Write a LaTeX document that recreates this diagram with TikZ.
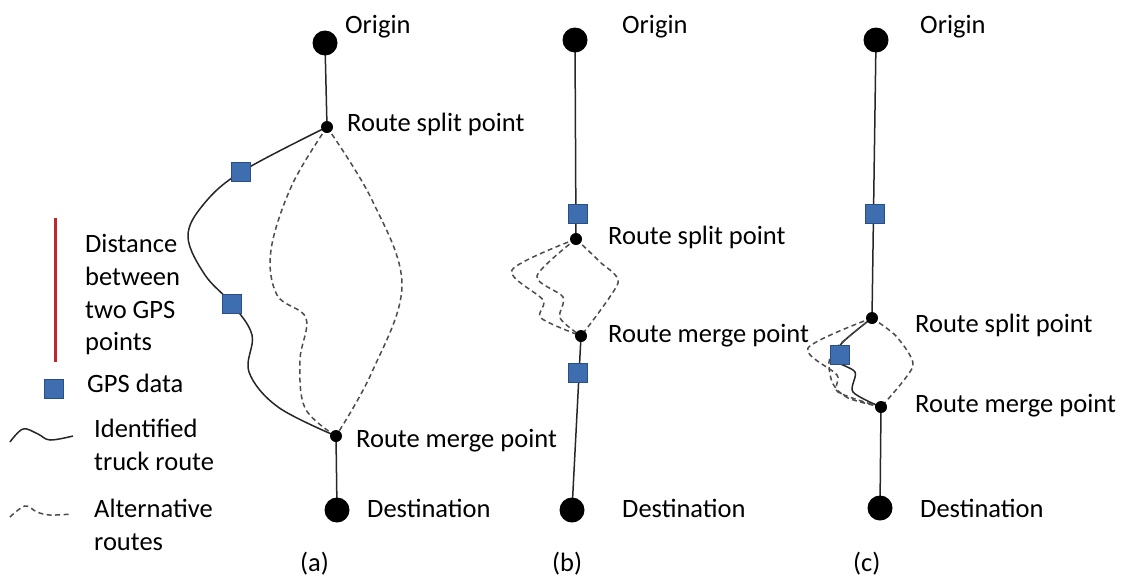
\documentclass[tikz,border=0pt]{standalone}
\usepackage{fontspec}
\setmainfont{Carlito}
\begin{document}
\begin{tikzpicture}[x=1pt,y=-1pt,
  bigdot/.style={circle,fill=black,inner sep=0pt,minimum size=25pt},
  smalldot/.style={circle,fill=black,inner sep=0pt,minimum size=12pt},
  gps/.style={rectangle,fill=gpsblue,draw=gpsedge,line width=1.2pt,inner sep=0pt,minimum size=19pt},
  lbl/.style={anchor=base west,inner sep=0pt,font=\fontsize{26.5}{30}\selectfont},
  road/.style={line width=1.5pt,draw=black!85},
  alt/.style={line width=1.5pt,draw=black!70,dash pattern=on 5pt off 3.5pt},
]
\definecolor{gpsblue}{HTML}{3F6EB0}
\definecolor{gpsedge}{HTML}{2A4F86}
\definecolor{distred}{HTML}{C0262D}
\useasboundingbox (0,0) rectangle (1125,579);

% ---------- coordinates ----------
\coordinate (oa) at (325,43);  \coordinate (sa) at (327,127);
\coordinate (ma) at (336,436); \coordinate (da) at (337,510);
\coordinate (ob) at (575,40);  \coordinate (sb) at (576,239);
\coordinate (mb) at (581,336); \coordinate (db) at (572,510);
\coordinate (oc) at (876,40);  \coordinate (sc) at (872,318);
\coordinate (mc) at (881,407); \coordinate (dc) at (880,508);

% ---------- panel (a) ----------
\draw[road] (oa) -- (sa);
\draw[road] (ma) -- (da);
\draw[road] plot[smooth,tension=0.6] coordinates {(sa) (241,172) (203,205) (188,237) (205,275) (232,304) (252,335) (249,372) (278,407) (ma)};
\draw[alt] plot[smooth,tension=0.6] coordinates {(sa) (292,185) (271,250) (277,295) (306,318) (300,360) (305,408) (ma)};
\draw[alt] plot[smooth,tension=0.6] coordinates {(sa) (372,200) (402,285) (372,372) (ma)};
\node[gps] (ga1) at (241,172) {};
\node[gps] (ga2) at (232,304) {};

% ---------- panel (b) ----------
\draw[road] (ob) -- (sb);
\draw[road] (mb) -- (db);
\draw[alt] plot[smooth,tension=0.5] coordinates {(sb) (512,270) (543,300) (541,318) (mb)};
\draw[alt] plot[smooth,tension=0.5] coordinates {(sb) (537,276) (563,297) (560,318) (mb)};
\draw[alt] plot[smooth,tension=0.4] coordinates {(sb) (600,262) (618,283) (mb)};
\node[gps] (gb1) at (578,214) {};
\node[gps] (gb2) at (578,373) {};

% ---------- panel (c) ----------
\draw[road] (oc) -- (sc);
\draw[road] (mc) -- (dc);
\draw[road] plot[smooth,tension=0.5] coordinates {(sc) (842,343) (835,360) (855,372) (853,392) (mc)};
\draw[alt] plot[smooth,tension=0.5] coordinates {(sc) (808,348) (837,375) (838,392) (mc)};
\draw[alt] plot[smooth,tension=0.5] coordinates {(sc) (838,346) (829,362) (833,384) (848,398) (mc)};
\draw[alt] plot[smooth,tension=0.4] coordinates {(sc) (896,336) (913,366) (mc)};
\node[gps] (gc1) at (875,214) {};
\node[gps] (gc2) at (840,355) {};

% ---------- dots ----------
\foreach \p in {oa,da,ob,db,oc,dc} \node[bigdot] at (\p) {};
\foreach \p in {sa,ma,sb,mb,sc,mc} \node[smalldot] at (\p) {};

% ---------- labels ----------
\node[lbl] (ta1) at (345,33) {Origin};
\node[lbl] (ta2) at (347,131) {Route split point};
\node[lbl] (ta3) at (356,447) {Route merge point};
\node[lbl] (ta4) at (367,517) {Destination};
\node[lbl] (tb1) at (622,33) {Origin};
\node[lbl] (tb2) at (608,244) {Route split point};
\node[lbl] (tb3) at (608,342) {Route merge point};
\node[lbl] (tb4) at (622,517) {Destination};
\node[lbl] (tc1) at (920,33) {Origin};
\node[lbl] (tc2) at (915,332) {Route split point};
\node[lbl] (tc3) at (915,412) {Route merge point};
\node[lbl] (tc4) at (920,517) {Destination};
\node[lbl] (pa) at (300,571) {(a)};
\node[lbl] (pb) at (552,571) {(b)};
\node[lbl] (pc) at (853,571) {(c)};

% ---------- legend ----------
\coordinate (rt) at (55,218); \coordinate (rb) at (55,362);
\draw[distred,line width=3pt] (rt) -- (rb);
\node[lbl] (l1) at (85,252) {Distance};
\node[lbl] (l2) at (85,285) {between};
\node[lbl] (l3) at (85,318) {two GPS};
\node[lbl] (l4) at (85,350) {points};
\node[gps] (lg) at (54,389) {};
\node[lbl] (l5) at (87,392) {GPS data};
\draw[road] plot[smooth,tension=0.6] coordinates {(10,442) (23,429) (38,434) (50,440) (73,436)};
\node[lbl] (l6) at (94,437) {Identified};
\node[lbl] (l7) at (94,470) {truck route};
\draw[alt] plot[smooth,tension=0.6] coordinates {(10,517) (25,506) (37,512) (50,515) (72,514)};
\node[lbl] (l8) at (94,517) {Alternative};
\node[lbl] (l9) at (94,550) {routes};
\end{tikzpicture}
\end{document}
